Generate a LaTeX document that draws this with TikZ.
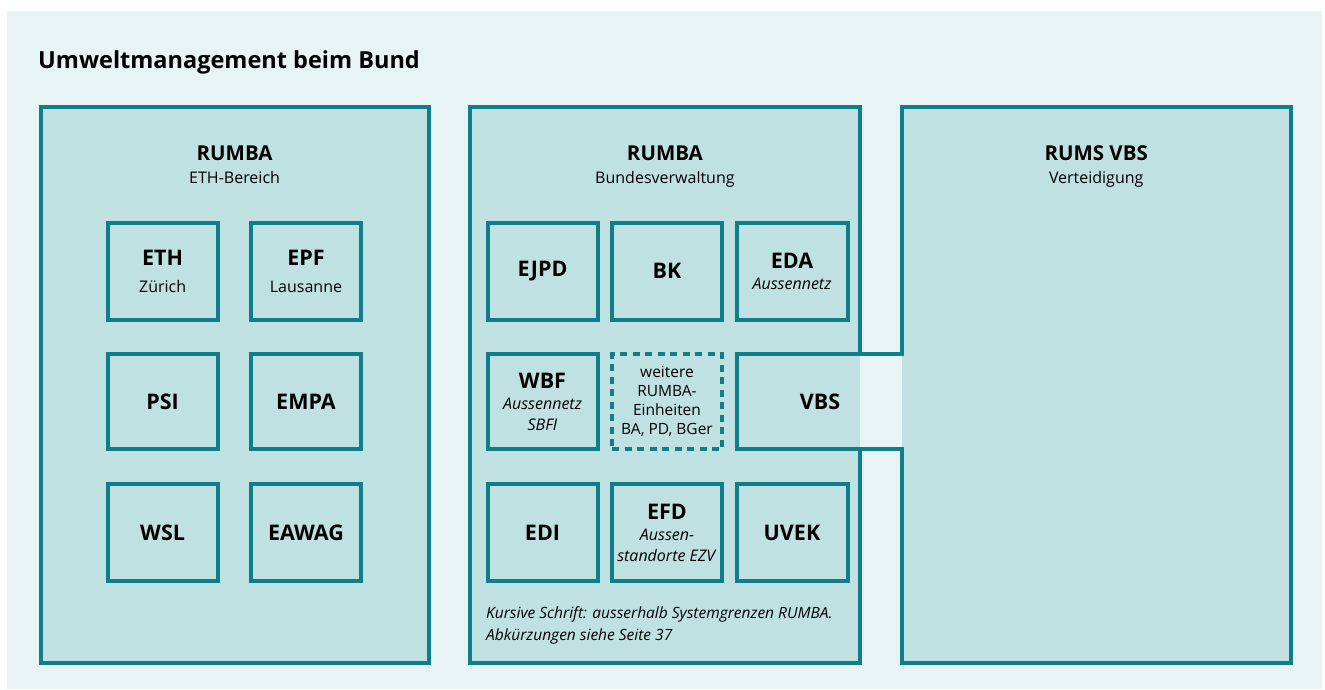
\documentclass[tikz,border=0pt]{standalone}
\usepackage{fontspec}
\setmainfont{Open Sans}
\usetikzlibrary{positioning}
\definecolor{rumbateal}{RGB}{16,125,139}
\definecolor{boxfill}{RGB}{192,225,226}
\definecolor{panelbg}{RGB}{232,244,244}
\tikzset{
    titlestyle/.style={font=\fontsize{23.5}{26}\selectfont\bfseries, inner sep=0pt, anchor=base west},
    headstyle/.style={font=\fontsize{20.5}{22}\selectfont\bfseries, inner sep=0pt, anchor=base},
    substyle/.style={font=\fontsize{16}{20}\selectfont, inner sep=0pt, anchor=base},
    notestyle/.style={font=\fontsize{15.5}{20}\selectfont\itshape, inner sep=0pt, anchor=base west},
    groupbox/.style={draw=rumbateal, line width=4pt, fill=boxfill},
    unitbox/.style={draw=rumbateal, line width=4pt, fill=boxfill, minimum width=110pt, minimum height=97pt,
        inner sep=0pt, align=center, font=\fontsize{16}{21}\selectfont},
    morebox/.style={unitbox, fill=none, dash pattern=on 7pt off 5.5pt, font=\fontsize{15.5}{19}\selectfont}
}
\newcommand{\unitname}[1]{{\fontsize{21.5}{21}\selectfont\bfseries #1}}

\begin{document}
\begin{tikzpicture}[x=1pt, y=-1pt]

        \def\rowone{271}
        \def\rowtwo{401.5}
        \def\rowthree{532.5}

        \fill[white] (0,0) rectangle (1325,689);
        \useasboundingbox (0,0) rectangle (1325,689);
        \fill[panelbg] (7,11) rectangle (1322,689);

        \node[titlestyle] (title) at (38,68) {Umweltmanagement beim Bund};

        % ================= GROUP BOXES =================
        \draw[groupbox] (40.5,107) rectangle (428.7,662.5);
        \draw[groupbox] (470.3,107) rectangle (859.5,662.5);
        \draw[groupbox] (901.5,107) rectangle (1291,662.5);

        % ================= LEFT: RUMBA ETH-Bereich =================
        \node[headstyle] (ethhead) at (234.6,160.7) {RUMBA};
        \node[substyle] (ethsub) at (234.6,183.3) {ETH-Bereich};

        \node[unitbox] (eth) at (162.6,\rowone) {\unitname{ETH}\\[6pt]Zürich};
        \node[unitbox] (epf) at (306,\rowone) {\unitname{EPF}\\[6pt]Lausanne};
        \node[unitbox, minimum height=95pt] (psi) at (162.6,\rowtwo) {\unitname{PSI}};
        \node[unitbox, minimum height=95pt] (empa) at (306,\rowtwo) {\unitname{EMPA}};
        \node[unitbox] (wsl) at (162.6,\rowthree) {\unitname{WSL}};
        \node[unitbox] (eawag) at (306,\rowthree) {\unitname{EAWAG}};

        % ================= MIDDLE: RUMBA Bundesverwaltung =================
        \node[headstyle] (bvhead) at (664.9,160.7) {RUMBA};
        \node[substyle] (bvsub) at (664.9,183.3) {Bundesverwaltung};

        \node[unitbox] (ejpd) at (542.5,\rowone) {\unitname{EJPD}};
        \node[unitbox] (bk) at (667,\rowone) {\unitname{BK}};
        \node[unitbox, minimum width=111pt] (eda) at (792,\rowone) {\unitname{EDA}\\\textit{Aussennetz}};
        \node[unitbox, minimum height=95pt] (wbf) at (542.5,\rowtwo) {\unitname{WBF}\\\textit{Aussennetz}\\\textit{SBFI}};
        \node[morebox, minimum height=95pt] (weitere) at (667,\rowtwo) {weitere\\RUMBA-\\Einheiten\\BA, PD, BGer};
        \node[unitbox] (edi) at (542.5,\rowthree) {\unitname{EDI}};
        \node[unitbox] (efd) at (667,\rowthree) {\unitname{EFD}\\\textit{Aussen-}\\\textit{standorte EZV}};
        \node[unitbox, minimum width=111pt] (uvek) at (792,\rowthree) {\unitname{UVEK}};

        \node[notestyle] (note) at (486,618.3) {Kursive Schrift: ausserhalb Systemgrenzen RUMBA.};
        \node[notestyle] (noteb) at (486,640) {Abkürzungen siehe Seite 37};

        % ================= RIGHT: RUMS VBS =================
        \node[headstyle] (vbshead) at (1096.2,160.7) {RUMS VBS};
        \node[substyle] (vbssub) at (1096.2,183.3) {Verteidigung};

        % --- VBS passage ---
        \fill[boxfill] (855,356) rectangle (860,447);
        \fill[panelbg] (860,356) rectangle (901.5,447);
        \fill[boxfill] (901.5,356) rectangle (906,447);
        \draw[rumbateal, line width=4pt] (903.5,354) -- (737,354) -- (737,449) -- (903.5,449);
        \node[font=\fontsize{21.5}{21}\selectfont\bfseries] (vbs) at (820,401.5) {VBS};

\end{tikzpicture}
\end{document}
